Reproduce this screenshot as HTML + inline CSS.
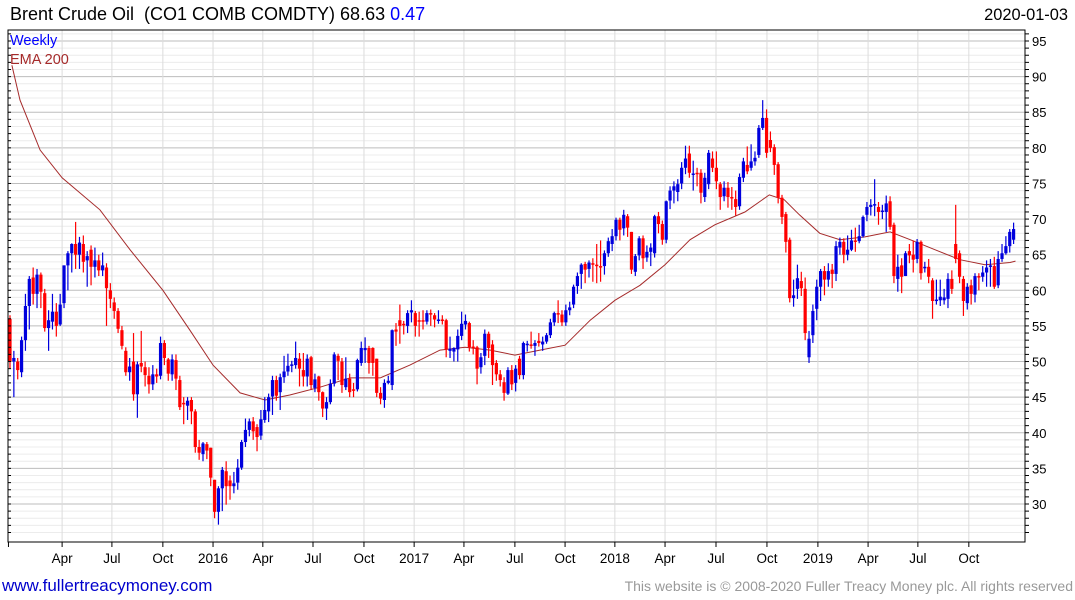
<!DOCTYPE html>
<html><head><meta charset="utf-8">
<style>
body{margin:0;background:#fff;width:1075px;height:600px;overflow:hidden;font-family:"Liberation Sans",sans-serif}
svg{display:block}
text{font-family:"Liberation Sans",sans-serif;white-space:pre}
</style></head>
<body>
<svg id="chart" width="1075" height="600" viewBox="0 0 1075 600">
<text x="10" y="20" font-size="18" fill="#000" xml:space="preserve">Brent Crude Oil  (CO1 COMB COMDTY) 68.63 <tspan fill="#0000ff">0.47</tspan></text>
<text x="1068" y="20" font-size="16.4" fill="#000" text-anchor="end">2020-01-03</text>
<g id="grid"></g>
<g id="ema"></g>
<g id="candles"></g>
<g id="axes"></g>
<text x="10" y="45" font-size="14.5" fill="#0000ff">Weekly</text>
<text x="10" y="64" font-size="14.5" fill="#a52a2a">EMA 200</text>
<text x="2" y="591" font-size="17" fill="#0000cc">www.fullertreacymoney.com</text>
<text x="1073" y="591" font-size="14" fill="#999" text-anchor="end">This website is © 2008-2020 Fuller Treacy Money plc. All rights reserved</text>
</svg>
<script>
const opens=[56,50,50,48.5,53,57.8,61.8,59.5,62.2,59.6,54.7,55.6,57,55.2,58.2,63.5,65.2,66.5,65,66.5,64.2,65.7,63.3,64.2,62.8,63.2,60,58.3,57.1,54.4,51.5,48.5,50,45.4,49.8,49.2,48,46.8,48.2,48,52.6,50.3,48.2,50.2,47.4,44.2,43.8,44.6,43,38,37,38.4,37.9,33.4,28.9,32.2,34.6,33.3,32.5,33,35.1,38.7,40.4,41.6,40.8,39.6,41.8,43,45.1,47.4,45.7,47.8,48.6,49.4,49.5,50.4,48.8,47.9,50.6,46.3,47.9,45.7,43.4,44.3,46.9,50.8,50,46.4,47.6,46.1,46.1,49.8,51.6,51.9,51.9,50.4,45.6,44.6,47,46.7,54.5,55.8,55.3,55,56.9,56.8,55.8,55.8,55.6,56.8,56.5,55.7,55.9,55.8,51.5,51.4,51.7,53.6,55.2,55.4,52.1,52,49.2,50.8,53.9,52.4,49.8,48.2,47.1,45.5,48.8,47,50.4,48.1,52.4,52.4,52.2,52.9,52.4,52.8,53.7,55.5,56.8,56.6,55.5,57.2,58,60.6,62.3,63.7,63,63.8,63.6,63.4,63.4,65.2,66.5,67.6,69.9,68.7,70.4,68.2,62.6,64.9,67.3,64.6,65.4,65.2,70.4,69.3,67.1,72.6,74,73.8,75,77.2,79.2,76.2,76.5,76.5,73.1,74.9,78.5,77.2,74.9,73.2,74.4,73.1,72.8,71.8,75.8,77.6,77.2,78.1,79,82.8,84.2,81.1,80.1,77.7,73,70.7,67.1,58.9,60.2,61.3,60.2,50.6,53.7,57.4,60.5,62.7,61.5,62.9,62.3,66,66.8,65,65.7,67,66.9,67.6,70.6,71.7,72,71.7,71,71,72.5,69.2,61.6,63.5,62,65.5,65,64.4,66.8,63.1,63.3,61.4,58.5,58.6,58.6,58.8,61.6,66.5,65.2,61.6,58.2,60.7,59.4,62,61.9,62.5,63.3,63.4,60.7,64.4,65.2,66.2,67.1];
const closes=[50,50.5,48.8,53,57.8,61.6,59.5,62.2,59.8,54.7,55.8,57,55,58,63.5,65.2,66.5,65,66.7,64,64.8,63.3,64.2,62.8,63.5,60.3,58.8,57.1,54.6,52.2,48.5,49.3,45.4,49.6,49.3,48.1,46.8,48.2,47.9,52.6,50.5,48.3,50.3,47.6,43.6,44,44.5,43,38,37.2,38.5,37.5,33.7,28.9,32.2,34.8,32.5,32.5,32.9,35.1,38.7,40.4,41.6,40.2,39.4,41.9,43.2,45,47.4,45.2,47.8,48.6,49.4,49.6,50.5,49,47.9,50.4,46.7,47.5,45.7,43.4,44.3,46.9,51,50.1,46.7,47.6,45.7,45.9,50.2,51.9,51.9,49.8,49.8,45.6,44.8,47,47.3,54.4,54.2,55,55.1,56.8,57.2,55,55.6,55.6,56.8,56.6,55.9,55.9,55.8,51.7,51.8,51.9,53.6,55.3,55.7,52,51.9,49,50.6,53.9,51.9,49.5,48.2,47.4,45.6,48.8,46.8,49,48.1,52.6,52.5,52.2,52.6,52.6,52.8,53.7,55.5,56.8,56.6,55.5,57.2,57.6,60.5,62,63.6,62.9,63.9,63.6,63.4,63.3,65.2,66.9,67.6,69.9,68.5,70.6,68.8,62.9,64.8,67.3,64.5,65.4,66,70.4,69.3,67.1,72.5,74,74.6,74.9,77.2,78.5,76.5,76.4,76.4,73.7,75.8,79.3,77.2,75.3,73.1,74.4,73.1,72.9,71.7,75.9,78.1,76.7,78.1,78.6,82.8,84.2,79.3,80,77.6,73,70.3,66.8,58.9,59.3,61.7,60.3,54,53.2,57.1,60.5,62.7,61.5,62.7,62.3,66.2,66.8,65,65.7,67,66.8,67.6,70.3,71.7,72,72.1,71,71.2,72.2,68.9,62,63.3,61.9,65.2,64.9,64.3,66.8,62.4,63.3,61.9,58.5,58.7,59.1,59,61.6,60.2,64.4,61.9,58.5,60.5,59.5,62,61.8,62.5,63.2,63.5,60.5,64.4,65.2,66.2,68.2,68.6];
const highs=[56.5,51.5,50.5,53.5,59.5,62,63.2,63,62.5,60.2,57.2,59.5,58.2,59.5,63.5,65.5,66.6,69.6,67.5,67.7,65.5,66.3,66,65,65.3,63.8,61,59,57.5,55,52,50.5,54,50,54.3,50,49.2,49.5,49,53.5,53,50.5,51,51,48,45,45,45,43.3,39,38.7,38.7,37.9,33.4,32.5,35.2,36,34,34.5,36.3,39,42,42,42.2,41.2,43.2,45,45.5,48,48,48.3,50.8,51.1,50.1,52.8,51.2,51.2,51,50.8,48.3,48,45.8,45,47.5,51.3,51.1,50.5,50.6,48.3,47,50.4,52.8,53.4,52.2,52,50.4,46.4,47.5,48,54.5,55.4,58,55.7,57.2,58.6,57.1,57,57.2,57.2,57.3,56.8,57.2,56.5,56,53.5,52,54.5,57,56.6,55.6,53,52.2,51.2,54.5,54.2,53,50.2,48.8,47.8,49.2,49.5,49.5,50.8,52.8,52.9,54.2,53,54,53.5,54,56,57,58.6,57.2,58,58.4,60.8,62.5,63.8,64,64.2,64.5,66.5,67,65.6,67.4,68.6,70.2,70.2,71.3,70.7,68.2,65.1,67.6,67.7,66.3,66.6,70.6,71,69.8,72.6,74.6,75.3,75.6,78,80.3,80.3,78.2,77.2,77,76.5,79.7,79.5,79.5,75.2,75.3,75.2,74.5,74,76.4,78.6,80.2,80.5,79.5,83.2,86.7,85.4,82.3,80.5,78,73.4,71,67.4,61.5,63.6,62.6,61.8,54.3,58,61.5,63,63.4,63.8,63.7,66.9,67.4,67.3,67.7,68.5,68.8,69.2,70.5,72.4,72.8,75.6,72.4,72,73.3,73.2,69.5,65,64.5,65.5,66.5,67,67.2,67,64,64.4,61.7,61.5,61.5,60.2,62.4,62.8,72,65.6,62,61,61.5,62.4,62.4,63.4,64.2,64.4,64.7,65.5,66.5,67.6,68.6,69.5];
const lows=[49,45,47.5,47.8,51.5,54.5,58,57.5,57.5,54.2,51.5,54.5,53.5,55,57.5,60,62.5,63,63,62.5,60.5,60.7,61.8,62,62,55,57.5,56,54,51.7,48,47.3,44.5,42.1,48.5,46.5,45.5,46,47,47.5,49.5,47.3,47.3,46,43.2,41.2,41.8,41.2,37.2,36.2,36,36.3,32.5,28,27.1,29,29.9,30.6,31.5,32,34.8,38,39.5,39,37.4,39,41.4,41.5,42.5,44.5,43.2,47,48,48.5,49,46.5,46.5,46.5,46,45.7,44.5,42.2,41.8,44,46.5,47.4,45.6,46,45,45,45.8,49.4,49.8,48.3,48,45,44,43.5,46.8,46,52.2,52.5,53.8,54,55.5,53.5,53.5,54.5,55.2,55,54.8,55.3,55.2,50.6,50.5,50,50,53,54.5,51.4,51,46.8,48.3,49.5,50.5,46.7,47.3,46.5,44.5,45.3,46,45.8,47.5,47.5,51.4,51.8,50.8,52.1,51.5,52.5,53.3,55,55.4,55,55,56.5,57.5,59.5,60.2,61,61.8,61.2,61,61.2,62.2,64.7,65.5,67,67,67.7,67.5,62.3,62,64.2,63,64,63.4,64.6,68,66.4,66.6,71.4,72.2,72.5,74.2,76.3,75.8,74,74.6,72.2,72.4,74.2,76.6,74.2,71.3,72.5,71.6,71.3,70.5,71.3,75.2,76.3,76.8,77.5,78.6,82.5,78.6,79.4,76.2,72.2,69.3,65.3,58.3,57.7,58.8,59.2,53,49.8,52.6,55.8,58.5,59.3,60.5,60.3,61.3,65,63.8,64.2,65.5,65.4,66.6,67.4,69.7,70.5,70.4,69.2,70,68.2,68.5,61,59.8,59.6,62,63.8,62.5,63.8,61.5,62.5,61,56,58,57.8,58,57.5,59.5,63.8,61,56.4,57.3,58,58.3,60,61.2,60.5,60.5,60.2,60.3,64,65,65.3,66.5];
const emaWeeks=[0.5,2.6,7.8,13.5,23.3,31.1,39.6,46.6,52.6,59.6,66.1,72.5,80.3,88.1,95.9,103.6,111.4,117.9,124.4,130.8,137.3,143.8,150.3,156.7,163.2,169.7,176.2,182.6,190.4,196.7,200.6,204.5,209.8,215,221.5,228,233.2,239.6,246.1,252.6,259.1,260.5];
const emaVals=[91.6,86.7,79.7,75.8,71.3,65.7,60,54.4,49.5,45.6,44.6,45.3,46.4,47.7,47.7,49.5,51.6,52,51.6,50.9,51.6,52.3,55.8,58.6,60.7,63.6,67.1,69.2,71,73.4,72.7,70.6,68,67.1,67.5,68.2,67.1,65.7,64.3,63.6,63.9,64.1];
const yTicks=[30,35,40,45,50,55,60,65,70,75,80,85,90,95];
const xTickLabels=["Apr","Jul","Oct","2016","Apr","Jul","Oct","2017","Apr","Jul","Oct","2018","Apr","Jul","Oct","2019","Apr","Jul","Oct"];
const xTickWeeks=[13.5,26.4,39.6,52.6,65.5,78.5,91.7,104.7,117.6,130.8,143.8,156.7,169.7,182.9,196.1,209.3,222.3,235.2,248.4];

const NS="http://www.w3.org/2000/svg";
const L=8,R=1025,T=30,B=542;
function y(v){return 41+(95-v)*7.123;}
function x(w){return 10+w*3.86;}
function mk(tag,attrs,parent){const e=document.createElementNS(NS,tag);for(const k in attrs)e.setAttribute(k,attrs[k]);parent.appendChild(e);return e;}
const grid=document.getElementById('grid'),axes=document.getElementById('axes'),cg=document.getElementById('candles'),eg=document.getElementById('ema');
for(let v=26;v<=96;v++){const yy=y(v);if(yy<T||yy>B)continue;
 const ln=mk('line',{x1:L,x2:R,y1:yy,y2:yy,stroke:(v%5===0)?'#bdbdbd':'#ececec','stroke-width':1},grid);
 
 
 mk('line',{x1:R,x2:R+4,y1:yy,y2:yy,stroke:'#000','stroke-width':1},axes);
 mk('line',{x1:L,x2:L+3,y1:yy,y2:yy,stroke:'#000','stroke-width':1},axes);
}
xTickWeeks.forEach((w,i)=>{const xx=x(w);
 const ln=mk('line',{x1:xx,x2:xx,y1:T,y2:B,stroke:'#dcdcdc','stroke-width':1},grid);
 
 
 mk('line',{x1:xx,x2:xx,y1:B,y2:B+5,stroke:'#000','stroke-width':1},axes);
 const t=mk('text',{x:xx,y:563,'font-size':13.5,'text-anchor':'middle',fill:'#000'},axes);
 
 
 t.textContent=xTickLabels[i];
});
mk('line',{x1:x(-0.4),x2:x(-0.4),y1:B,y2:B+5,stroke:'#000','stroke-width':1},axes);
yTicks.forEach(v=>{const t=mk('text',{x:R+7,y:y(v)+5,'font-size':13,fill:'#000'},axes);
 
 
 t.textContent=v;});
mk('rect',{x:L,y:T,width:R-L,height:B-T,fill:'none',stroke:'#000','stroke-width':1},axes);
let d='';emaWeeks.forEach((w,i)=>{d+=(i?'L':'M')+x(w).toFixed(1)+','+y(emaVals[i]).toFixed(1);});
const p=mk('path',{d:d,fill:'none',stroke:'#a52a2a','stroke-width':1},eg);


closes.forEach((c,i)=>{const o=opens[i],xx=x(i),col=c>=o?'#0000dd':'#ff0000';
 const g=mk('g',{},cg);
 
 
 mk('line',{x1:xx,x2:xx,y1:y(highs[i]),y2:y(lows[i]),stroke:col,'stroke-width':1.2},g);
 const top=y(Math.max(o,c)),h=Math.max(1.5,Math.abs(y(o)-y(c)));
 mk('rect',{x:xx-1.6,y:top,width:3.2,height:h,fill:col},g);
});
</script>
</body></html>
